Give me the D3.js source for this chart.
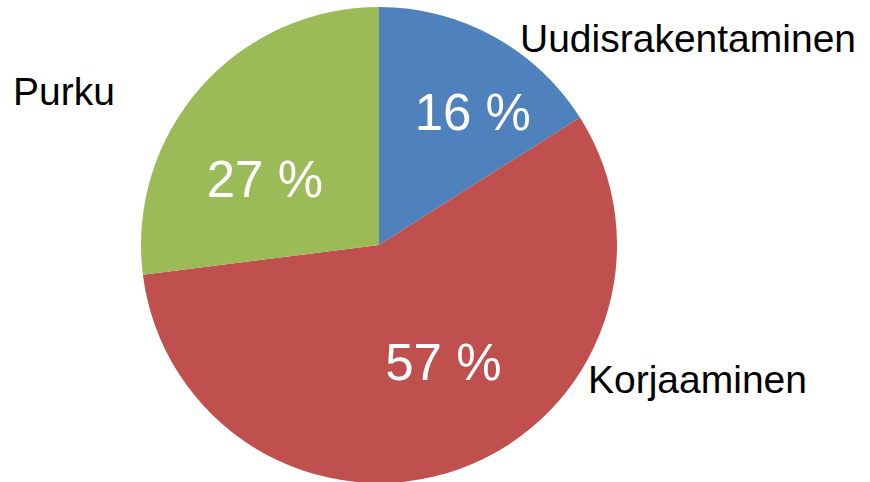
<!DOCTYPE html>
<html>
<head>
<meta charset="utf-8">
<script src="https://cdn.jsdelivr.net/npm/d3@7"></script>
<style>
    html, body { margin: 0; padding: 0; background: #fff; }
    svg { display: block; font-family: "Liberation Sans", Arial, sans-serif; }
</style>
</head>
<body>
<div id="chart"></div>
<script>
// chart data
const categories = ["Uudisrakentaminen", "Korjaaminen", "Purku"];
const shares = [16, 57, 27];
const colors = ["#4F81BD", "#C0504D", "#9BBB59"];

// layout (label placement tweaks, not data)
const pctOffsets = [[25, -8], [16, -18], [-7, 28]];
const namePos = [[520, 52], [588, 393], [13, 105]];

const width = 870, height = 482;
const cx = 379, cy = 245, radius = 238;

let svg = d3.select("#chart").append("svg")
    .attr("width", width)
    .attr("height", height);

let g = svg.append("g")
    .attr("transform", "translate(" + cx + "," + cy + ")");

let pie = d3.pie().sort(null).value(d => d.value);
let arc = d3.arc().innerRadius(0).outerRadius(radius);
let labelArc = d3.arc().innerRadius(radius * 0.6).outerRadius(radius * 0.6);

let rows = categories.map((c, i) => ({name: c, value: shares[i], color: colors[i]}));
let arcs = pie(rows);

g.selectAll("path")
    .data(arcs)
    .enter().append("path")
    .attr("d", arc)
    .attr("fill", d => d.data.color);

// percentages inside slices
g.selectAll(".pct")
    .data(arcs)
    .enter().append("text")
    .attr("class", "pct")
    .attr("transform", function(d, i) {
        let c = labelArc.centroid(d);
        return "translate(" + (c[0] + pctOffsets[i][0]) + "," + (c[1] + pctOffsets[i][1]) + ")";
    })
    .attr("text-anchor", "middle")
    .attr("dy", "0.36em")
    .attr("fill", "white")
    .attr("font-size", 51)
    .text(d => d.data.value + " %");

// category names outside
svg.selectAll(".name")
    .data(rows)
    .enter().append("text")
    .attr("class", "name")
    .attr("x", (d, i) => namePos[i][0])
    .attr("y", (d, i) => namePos[i][1])
    .attr("fill", "black")
    .attr("font-size", 39)
    .text(d => d.name);
</script>
</body>
</html>
